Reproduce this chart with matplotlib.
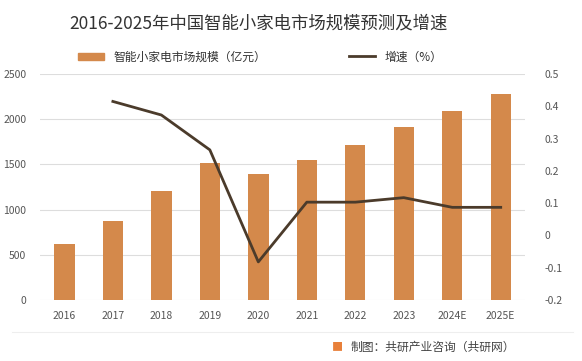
import numpy as np
import matplotlib.pyplot as plt
from matplotlib.patches import Patch
from matplotlib.lines import Line2D

plt.rcParams['font.family'] = ['Noto Sans CJK SC', 'DejaVu Sans']

years = ['2016', '2017', '2018', '2019', '2020', '2021', '2022', '2023', '2024E', '2025E']
scale = [615, 870, 1205, 1515, 1395, 1550, 1715, 1915, 2090, 2280]  # 亿元
growth = [np.nan, 0.415, 0.373, 0.265, -0.082, 0.103, 0.103, 0.117, 0.087, 0.087]

bar_color = '#D4894B'
line_color = '#4B3B2B'
txt_color = '#555555'

fig = plt.figure(figsize=(5.82, 3.61), dpi=100)
ax = fig.add_axes([0.069, 0.169, 0.833, 0.626])
x = np.arange(len(years))

ax.bar(x, scale, width=0.42, color=bar_color, zorder=2)
ax.set_ylim(0, 2500)
ax.set_yticks(range(0, 2501, 500))
ax.set_xlim(-0.5, 9.5)
ax.set_xticks(x)
ax.set_xticklabels(years)
ax.grid(axis='y', color='#DDDDDD', linewidth=0.8, zorder=0)
for s in ax.spines.values():
    s.set_visible(False)
ax.tick_params(length=0, labelsize=7.5, colors=txt_color)
ax.tick_params(axis='x', pad=8)
ax.tick_params(axis='y', pad=10)

ax2 = ax.twinx()
ax2.plot(x, growth, color=line_color, linewidth=2, zorder=3)
ax2.set_ylim(-0.2, 0.5)
ax2.set_yticks([-0.2, -0.1, 0, 0.1, 0.2, 0.3, 0.4, 0.5])
ax2.set_yticklabels(['-0.2', '-0.1', '0', '0.1', '0.2', '0.3', '0.4', '0.5'])
for s in ax2.spines.values():
    s.set_visible(False)
ax2.tick_params(length=0, labelsize=7.5, colors=txt_color, pad=14)

fig.text(0.445, 0.935, '2016-2025年中国智能小家电市场规模预测及增速', ha='center', va='center',
         fontsize=12.5, color='#333333')

handles = [Patch(color=bar_color), Line2D([0], [0], color=line_color, linewidth=2)]
fig.legend(handles[:1], ['智能小家电市场规模（亿元）'], loc='center', bbox_to_anchor=(0.295, 0.842),
           frameon=False, fontsize=8.5, handlelength=2.2, handleheight=0.5, labelcolor='#333333')
fig.legend(handles[1:], ['增速（%）'], loc='center', bbox_to_anchor=(0.68, 0.842),
           frameon=False, fontsize=8.5, handlelength=2.2, labelcolor='#333333')

fig.add_artist(Line2D([0.02, 0.985], [0.08, 0.08], color='#EEEEEE', linewidth=0.8))
fig.text(0.57, 0.038, '■', color='#E8803A', fontsize=8, va='center', ha='left')
fig.text(0.885, 0.038, '制图：共研产业咨询（共研网）', ha='right', va='center',
         fontsize=8.5, color='#444444')

fig.savefig('out.png', dpi=100)
